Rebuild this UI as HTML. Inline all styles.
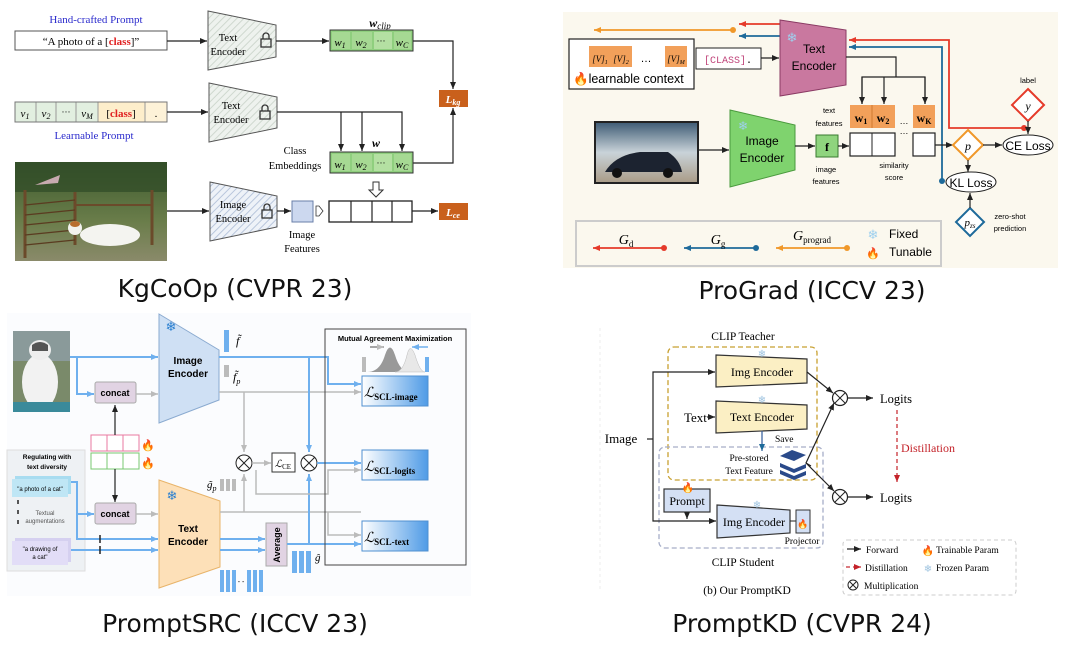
<!DOCTYPE html>
<html><head><meta charset="utf-8"><style>
html,body{margin:0;padding:0;background:#fff;width:1080px;height:654px;overflow:hidden}
svg{display:block}
.t{font-family:"Liberation Serif",serif}
.s{font-family:"Liberation Sans","DejaVu Sans",sans-serif}
.ti{font-family:"DejaVu Sans","Liberation Sans",sans-serif;font-size:25px;fill:#111}
</style></head><body>
<svg width="1080" height="654" viewBox="0 0 1080 654" xmlns="http://www.w3.org/2000/svg">
<defs>
<marker id="ak" markerWidth="8" markerHeight="8" refX="7" refY="4" orient="auto" markerUnits="userSpaceOnUse"><path d="M0,1 L7,4 L0,7z" fill="#222"/></marker>
<marker id="ab" markerWidth="8" markerHeight="8" refX="7" refY="4" orient="auto" markerUnits="userSpaceOnUse"><path d="M0,1 L7,4 L0,7z" fill="#6fb0ee"/></marker>
<marker id="ag" markerWidth="8" markerHeight="8" refX="7" refY="4" orient="auto" markerUnits="userSpaceOnUse"><path d="M0,1 L7,4 L0,7z" fill="#bbb"/></marker>
<marker id="ar" markerWidth="8" markerHeight="8" refX="7" refY="4" orient="auto" markerUnits="userSpaceOnUse"><path d="M0,1 L7,4 L0,7z" fill="#e53a2a"/></marker>
<marker id="abl" markerWidth="8" markerHeight="8" refX="7" refY="4" orient="auto" markerUnits="userSpaceOnUse"><path d="M0,1 L7,4 L0,7z" fill="#1e6a9a"/></marker>
<marker id="ao" markerWidth="8" markerHeight="8" refX="7" refY="4" orient="auto" markerUnits="userSpaceOnUse"><path d="M0,1 L7,4 L0,7z" fill="#f0982a"/></marker>
<marker id="ad" markerWidth="8" markerHeight="8" refX="7" refY="4" orient="auto" markerUnits="userSpaceOnUse"><path d="M0,1 L7,4 L0,7z" fill="#c4232a"/></marker>
<pattern id="hatch" width="5" height="5" patternUnits="userSpaceOnUse" patternTransform="rotate(45)"><rect width="5" height="5" fill="#eef2ee"/><line x1="0" y1="0" x2="0" y2="5" stroke="#cfd8cf" stroke-width="2"/></pattern>
<pattern id="hatchb" width="5" height="5" patternUnits="userSpaceOnUse" patternTransform="rotate(45)"><rect width="5" height="5" fill="#eef2f8"/><line x1="0" y1="0" x2="0" y2="5" stroke="#b8c6dc" stroke-width="2"/></pattern>
<linearGradient id="lg" x1="0" x2="1"><stop offset="0" stop-color="#fff"/><stop offset="1" stop-color="#4f9be6"/></linearGradient>
<linearGradient id="car" x1="0" y1="0" x2="0" y2="1"><stop offset="0" stop-color="#3d5a74"/><stop offset=".5" stop-color="#c9d3d9"/><stop offset="1" stop-color="#a99b86"/></linearGradient>
<linearGradient id="dog" x1="0" y1="0" x2="0" y2="1"><stop offset="0" stop-color="#3d5a2e"/><stop offset=".6" stop-color="#6a7d4a"/><stop offset="1" stop-color="#8a8a6a"/></linearGradient>
</defs>

<!-- ============ KgCoOp ============ -->
<text x="96" y="23" class="t" font-size="11" fill="#2a2acc" text-anchor="middle">Hand-crafted Prompt</text>
<rect x="15" y="31" width="152" height="19" fill="#fff" stroke="#555"/>
<text x="91" y="45" class="t" font-size="11" text-anchor="middle">“A photo of a [<tspan fill="#e02020" font-weight="bold">class</tspan>]”</text>
<line x1="167" y1="41" x2="207" y2="41" stroke="#222" stroke-width="1.2" marker-end="url(#ak)"/>
<path d="M208,11 L276,25 L276,57 L208,70z" fill="url(#hatch)" stroke="#555"/>
<text x="228" y="41" class="t" font-size="10.5" text-anchor="middle">Text</text>
<text x="228" y="55" class="t" font-size="10.5" text-anchor="middle">Encoder</text>
<rect x="261" y="39" width="10" height="8" fill="none" stroke="#333" stroke-width="1.3"/><path d="M263,39 v-3 a3,3 0 0 1 6,0 v3" fill="none" stroke="#333" stroke-width="1.3"/>
<line x1="276" y1="41" x2="329" y2="41" stroke="#222" stroke-width="1.2" marker-end="url(#ak)"/>
<text x="380" y="27" class="t" font-size="12" font-style="italic" font-weight="bold" text-anchor="middle">w<tspan font-size="9" dy="2" font-weight="normal">clip</tspan></text>
<g>
<rect x="330" y="30" width="83" height="21" fill="#8fcf7e" stroke="#333"/>
<rect x="332" y="32" width="18" height="17" fill="#a6d993"/><rect x="352" y="32" width="20" height="17" fill="#a6d993"/><rect x="374" y="32" width="18" height="17" fill="#b4e0a2"/><rect x="394" y="32" width="17" height="17" fill="#a6d993"/>
<text x="340" y="46" class="t" font-size="11" font-style="italic" text-anchor="middle">w<tspan font-size="8" dy="2">1</tspan></text>
<text x="361" y="46" class="t" font-size="11" font-style="italic" text-anchor="middle">w<tspan font-size="8" dy="2">2</tspan></text>
<text x="381" y="44" class="t" font-size="9" text-anchor="middle">···</text>
<text x="402" y="46" class="t" font-size="11" font-style="italic" text-anchor="middle">w<tspan font-size="8" dy="2">C</tspan></text>
</g>
<polyline points="413,41 453,41 453,89" fill="none" stroke="#222" stroke-width="1.2" marker-end="url(#ak)"/>
<rect x="439" y="90" width="29" height="17" fill="#c9601c"/>
<text x="453" y="103" class="t" font-size="11" font-weight="bold" font-style="italic" fill="#fff" text-anchor="middle">L<tspan font-size="8" dy="2">kg</tspan></text>
<polyline points="413,163 453,163 453,108" fill="none" stroke="#222" stroke-width="1.2" marker-end="url(#ak)"/>
<!-- learnable prompt -->
<rect x="15" y="102" width="152" height="20" fill="#e2efe0" stroke="#777"/>
<rect x="98" y="102" width="47" height="20" fill="#fdeecb"/><rect x="145" y="102" width="22" height="20" fill="#fdf2d8"/>
<g stroke="#999"><line x1="36" y1="102" x2="36" y2="122"/><line x1="56" y1="102" x2="56" y2="122"/><line x1="76" y1="102" x2="76" y2="122"/><line x1="98" y1="102" x2="98" y2="122"/><line x1="145" y1="102" x2="145" y2="122"/></g>
<rect x="15" y="102" width="152" height="20" fill="none" stroke="#777"/>
<g class="t" font-size="11" font-style="italic" text-anchor="middle"><text x="25" y="117">v<tspan font-size="8" dy="2">1</tspan></text><text x="46" y="117">v<tspan font-size="8" dy="2">2</tspan></text><text x="66" y="115" font-style="normal" font-size="9">···</text><text x="87" y="117">v<tspan font-size="8" dy="2">M</tspan></text></g>
<text x="121" y="117" class="t" font-size="11" text-anchor="middle">[<tspan fill="#e02020" font-weight="bold">class</tspan>]</text>
<text x="156" y="117" class="t" font-size="11" text-anchor="middle">.</text>
<text x="94" y="139" class="t" font-size="11" fill="#2a2acc" text-anchor="middle">Learnable Prompt</text>
<line x1="167" y1="112" x2="208" y2="112" stroke="#222" stroke-width="1.2" marker-end="url(#ak)"/>
<path d="M209,83 L277,97 L277,128 L209,142z" fill="url(#hatch)" stroke="#555"/>
<text x="231" y="109" class="t" font-size="10.5" text-anchor="middle">Text</text>
<text x="231" y="123" class="t" font-size="10.5" text-anchor="middle">Encoder</text>
<rect x="260" y="111" width="10" height="8" fill="none" stroke="#333" stroke-width="1.3"/><path d="M262,111 v-3 a3,3 0 0 1 6,0 v3" fill="none" stroke="#333" stroke-width="1.3"/>
<polyline points="277,112 402,112 402,151" fill="none" stroke="#222" stroke-width="1.2" marker-end="url(#ak)"/>
<line x1="341" y1="112" x2="341" y2="151" stroke="#222" stroke-width="1.2" marker-end="url(#ak)"/>
<line x1="362" y1="112" x2="362" y2="151" stroke="#222" stroke-width="1.2" marker-end="url(#ak)"/>
<text x="376" y="147" class="t" font-size="12" font-style="italic" font-weight="bold" text-anchor="middle">w</text>
<text x="295" y="154" class="t" font-size="10.5" text-anchor="middle">Class</text>
<text x="295" y="169" class="t" font-size="10.5" text-anchor="middle">Embeddings</text>
<g>
<rect x="330" y="152" width="83" height="21" fill="#8fcf7e" stroke="#333"/>
<rect x="332" y="154" width="18" height="17" fill="#a6d993"/><rect x="352" y="154" width="20" height="17" fill="#a6d993"/><rect x="374" y="154" width="18" height="17" fill="#b4e0a2"/><rect x="394" y="154" width="17" height="17" fill="#a6d993"/>
<text x="340" y="168" class="t" font-size="11" font-style="italic" text-anchor="middle">w<tspan font-size="8" dy="2">1</tspan></text>
<text x="361" y="168" class="t" font-size="11" font-style="italic" text-anchor="middle">w<tspan font-size="8" dy="2">2</tspan></text>
<text x="381" y="166" class="t" font-size="9" text-anchor="middle">···</text>
<text x="402" y="168" class="t" font-size="11" font-style="italic" text-anchor="middle">w<tspan font-size="8" dy="2">C</tspan></text>
</g>
<path d="M373,182 h6 v8 h4 l-7,7 l-7,-7 h4z" fill="#fff" stroke="#333"/>
<!-- dog image -->
<rect x="15" y="162" width="152" height="99" fill="url(#dog)"/>
<rect x="15" y="162" width="152" height="30" fill="#2f4a26" opacity=".7"/>
<g stroke="#6b4a2a" stroke-width="3"><line x1="25" y1="190" x2="25" y2="258"/><line x1="75" y1="192" x2="75" y2="245"/><line x1="152" y1="190" x2="152" y2="245"/></g>
<g stroke="#5a3b20" stroke-width="1.3"><line x1="25" y1="205" x2="75" y2="200"/><line x1="25" y1="215" x2="75" y2="210"/><line x1="25" y1="225" x2="75" y2="220"/><line x1="25" y1="235" x2="75" y2="230"/><line x1="25" y1="245" x2="75" y2="240"/></g>
<line x1="75" y1="205" x2="152" y2="205" stroke="#6b4a2a" stroke-width="2"/>
<ellipse cx="110" cy="235" rx="30" ry="11" fill="#f4f4f0"/><circle cx="75" cy="228" r="7" fill="#f2f2ee"/><ellipse cx="75" cy="224" rx="5" ry="3" fill="#b86e2e"/>
<path d="M35,185 L60,175 L58,183z" fill="#c8aab0"/>
<line x1="167" y1="211" x2="209" y2="211" stroke="#222" stroke-width="1.2" marker-end="url(#ak)"/>
<path d="M210,182 L277,196 L277,227 L210,241z" fill="url(#hatchb)" stroke="#555"/>
<text x="233" y="208" class="t" font-size="10.5" text-anchor="middle">Image</text>
<text x="233" y="222" class="t" font-size="10.5" text-anchor="middle">Encoder</text>
<rect x="262" y="210" width="10" height="8" fill="none" stroke="#333" stroke-width="1.3"/><path d="M264,210 v-3 a3,3 0 0 1 6,0 v3" fill="none" stroke="#333" stroke-width="1.3"/>
<line x1="277" y1="211" x2="291" y2="211" stroke="#222" stroke-width="1.2" marker-end="url(#ak)"/>
<rect x="292" y="201" width="21" height="21" fill="#ccd8ef" stroke="#6a7fa8"/>
<path d="M316,206 l3,0 l4,5 l-4,5 l-3,0z" fill="#fff" stroke="#333" stroke-width=".8"/>
<text x="302" y="238" class="t" font-size="10.5" text-anchor="middle">Image</text>
<text x="302" y="252" class="t" font-size="10.5" text-anchor="middle">Features</text>
<rect x="329" y="201" width="83" height="21" fill="#fff" stroke="#222" stroke-width="1.3"/>
<g stroke="#222" stroke-width="1.2"><line x1="351" y1="201" x2="351" y2="222"/><line x1="372" y1="201" x2="372" y2="222"/><line x1="392" y1="201" x2="392" y2="222"/></g>
<line x1="412" y1="211" x2="438" y2="211" stroke="#222" stroke-width="1.2" marker-end="url(#ak)"/>
<rect x="439" y="203" width="29" height="17" fill="#c9601c"/>
<text x="453" y="216" class="t" font-size="11" font-weight="bold" font-style="italic" fill="#fff" text-anchor="middle">L<tspan font-size="8" dy="2">ce</tspan></text>
<text x="235" y="297" class="ti" text-anchor="middle">KgCoOp (CVPR 23)</text>

<!-- ============ ProGrad ============ -->
<rect x="563" y="12" width="495" height="256" fill="#fbf8ee"/>
<line x1="733" y1="30" x2="594" y2="30" stroke="#f0982a" stroke-width="1.8" marker-end="url(#ao)"/><circle cx="733" cy="30" r="3" fill="#f0982a"/>
<line x1="782" y1="24" x2="739" y2="24" stroke="#e53a2a" stroke-width="1.8" marker-end="url(#ar)"/>
<line x1="782" y1="36" x2="739" y2="36" stroke="#1e6a9a" stroke-width="1.8" marker-end="url(#abl)"/>
<rect x="569" y="39" width="125" height="50" fill="#fff" stroke="#222" stroke-width="1.2"/>
<rect x="589" y="46" width="22" height="21" fill="#f2a05a"/><rect x="611" y="46" width="21" height="21" fill="#f2a05a"/><rect x="665" y="46" width="22" height="21" fill="#f2a05a"/>
<text x="600" y="62" class="t" font-size="9" font-style="italic" text-anchor="middle">[V]<tspan font-size="6" dy="2">1</tspan></text>
<text x="621" y="62" class="t" font-size="9" font-style="italic" text-anchor="middle">[V]<tspan font-size="6" dy="2">2</tspan></text>
<text x="646" y="62" class="s" font-size="11" text-anchor="middle">…</text>
<text x="676" y="62" class="t" font-size="9" font-style="italic" text-anchor="middle">[V]<tspan font-size="6" dy="2">M</tspan></text>
<text x="573" y="83" class="s" font-size="12.5"><tspan fill="#f06020">🔥</tspan>learnable context</text>
<rect x="696" y="48" width="65" height="21" fill="#fff" stroke="#222"/>
<text x="728" y="63" font-family="Liberation Mono,monospace" font-size="10" text-anchor="middle"><tspan fill="#c0447a">[CLASS]</tspan>.</text>
<line x1="761" y1="58" x2="779" y2="58" stroke="#222" stroke-width="1.2" marker-end="url(#ak)"/>
<path d="M780,20 L846,30 L846,85 L780,96z" fill="#c9789f" stroke="#8a3a63"/>
<text x="792" y="42" font-size="13" fill="#9fd0ee" text-anchor="middle">❄</text>
<text x="814" y="53" class="s" font-size="12" text-anchor="middle">Text</text>
<text x="814" y="70" class="s" font-size="12" text-anchor="middle">Encoder</text>
<polyline points="1024,128 949,128 949,40 849,40" fill="none" stroke="#e53a2a" stroke-width="1.8" marker-end="url(#ar)"/><circle cx="1024" cy="128" r="3" fill="#e53a2a"/>
<polyline points="942,181 942,47 849,47" fill="none" stroke="#1e6a9a" stroke-width="1.8" marker-end="url(#abl)"/><circle cx="942" cy="181" r="3" fill="#1e6a9a"/>
<polyline points="846,57 896,57 896,77" fill="none" stroke="#222" stroke-width="1.2"/>
<polyline points="862,104 862,77 925,77 925,104" fill="none" stroke="#222" stroke-width="1.2"/>
<line x1="862" y1="77" x2="862" y2="104" stroke="#222" stroke-width="1.2" marker-end="url(#ak)"/>
<line x1="884" y1="77" x2="884" y2="104" stroke="#222" stroke-width="1.2" marker-end="url(#ak)"/>
<line x1="925" y1="77" x2="925" y2="104" stroke="#222" stroke-width="1.2" marker-end="url(#ak)"/>
<rect x="850" y="105" width="45" height="23" fill="#f2a05a"/><line x1="872" y1="105" x2="872" y2="128" stroke="#d07a30"/>
<rect x="913" y="105" width="22" height="23" fill="#f2a05a"/>
<text x="861" y="122" class="t" font-size="12" font-weight="bold" text-anchor="middle">w<tspan font-size="8" dy="2">1</tspan></text>
<text x="883" y="122" class="t" font-size="12" font-weight="bold" text-anchor="middle">w<tspan font-size="8" dy="2">2</tspan></text>
<text x="924" y="122" class="t" font-size="12" font-weight="bold" text-anchor="middle">w<tspan font-size="8" dy="2">K</tspan></text>
<text x="904" y="124" class="s" font-size="9" text-anchor="middle">…</text><text x="904" y="134" class="s" font-size="9" text-anchor="middle">…</text>
<text x="829" y="113" class="s" font-size="7.5" text-anchor="middle">text</text>
<text x="829" y="126" class="s" font-size="7.5" text-anchor="middle">features</text>
<rect x="595" y="122" width="103" height="61" fill="url(#car)" stroke="#222" stroke-width="2"/>
<path d="M605,172 Q615,155 640,152 L668,152 Q680,160 682,172z" fill="#1c2330"/>
<circle cx="617" cy="173" r="5" fill="#111"/><circle cx="668" cy="173" r="5" fill="#111"/>
<line x1="698" y1="150" x2="729" y2="150" stroke="#222" stroke-width="1.2" marker-end="url(#ak)"/>
<path d="M730,110 L795,125 L795,170 L730,187z" fill="#7fd36e" stroke="#4a9a3d"/>
<text x="743" y="130" font-size="12" fill="#9fd0ee" text-anchor="middle">❄</text>
<text x="762" y="145" class="s" font-size="12" text-anchor="middle">Image</text>
<text x="762" y="162" class="s" font-size="12" text-anchor="middle">Encoder</text>
<line x1="795" y1="146" x2="815" y2="146" stroke="#222" stroke-width="1.2" marker-end="url(#ak)"/>
<rect x="816" y="135" width="22" height="22" fill="#8fd47e" stroke="#3a7a30"/>
<text x="827" y="151" class="t" font-size="12" font-weight="bold" text-anchor="middle">f</text>
<line x1="838" y1="146" x2="849" y2="146" stroke="#222" stroke-width="1.2" marker-end="url(#ak)"/>
<rect x="850" y="133" width="45" height="23" fill="#fff" stroke="#222" stroke-width="1.2"/><line x1="872" y1="133" x2="872" y2="156" stroke="#222"/>
<rect x="913" y="133" width="22" height="23" fill="#fff" stroke="#222" stroke-width="1.2"/>
<text x="826" y="172" class="s" font-size="7.5" text-anchor="middle">image</text>
<text x="826" y="184" class="s" font-size="7.5" text-anchor="middle">features</text>
<text x="894" y="168" class="s" font-size="7.5" text-anchor="middle">similarity</text>
<text x="894" y="180" class="s" font-size="7.5" text-anchor="middle">score</text>
<line x1="935" y1="145" x2="953" y2="145" stroke="#222" stroke-width="1.2" marker-end="url(#ak)"/>
<path d="M968,130 L983,145 L968,160 L953,145z" fill="#fff" stroke="#f0982a" stroke-width="2"/>
<text x="968" y="150" class="t" font-size="12" font-style="italic" text-anchor="middle">p</text>
<line x1="983" y1="145" x2="1002" y2="145" stroke="#222" stroke-width="1.2" marker-end="url(#ak)"/>
<ellipse cx="1028" cy="145" rx="25" ry="10" fill="#fff" stroke="#222"/>
<text x="1028" y="150" class="s" font-size="12" text-anchor="middle">CE Loss</text>
<text x="1028" y="83" class="s" font-size="7.5" text-anchor="middle">label</text>
<path d="M1028,89 L1044,105 L1028,121 L1012,105z" fill="#fff" stroke="#e53a2a" stroke-width="2"/>
<text x="1028" y="110" class="t" font-size="12" font-style="italic" text-anchor="middle">y</text>
<line x1="1028" y1="121" x2="1028" y2="134" stroke="#222" stroke-width="1.2" marker-end="url(#ak)"/>
<line x1="968" y1="160" x2="968" y2="172" stroke="#222" stroke-width="1.2" marker-end="url(#ak)"/>
<ellipse cx="971" cy="182" rx="25" ry="10" fill="#fff" stroke="#222"/>
<text x="971" y="187" class="s" font-size="12" text-anchor="middle">KL Loss</text>
<path d="M970,208 L984,222 L970,236 L956,222z" fill="#fff" stroke="#1e6a9a" stroke-width="2"/>
<text x="970" y="226" class="t" font-size="11" font-style="italic" text-anchor="middle">p<tspan font-size="7" dy="2">zs</tspan></text>
<line x1="970" y1="208" x2="970" y2="193" stroke="#222" stroke-width="1.2" marker-end="url(#ak)"/>
<text x="1010" y="219" class="s" font-size="7.5" text-anchor="middle">zero-shot</text>
<text x="1010" y="231" class="s" font-size="7.5" text-anchor="middle">prediction</text>
<rect x="576" y="221" width="365" height="45" fill="#fbf8ee" stroke="#ccc" stroke-width="2"/>
<line x1="664" y1="248" x2="593" y2="248" stroke="#e53a2a" stroke-width="1.8" marker-end="url(#ar)"/><circle cx="664" cy="248" r="3" fill="#e53a2a"/>
<text x="626" y="244" class="t" font-size="14" font-style="italic" text-anchor="middle">G<tspan font-size="9" font-style="normal" dy="3">d</tspan></text>
<line x1="756" y1="248" x2="684" y2="248" stroke="#1e6a9a" stroke-width="1.8" marker-end="url(#abl)"/><circle cx="756" cy="248" r="3" fill="#1e6a9a"/>
<text x="718" y="244" class="t" font-size="14" font-style="italic" text-anchor="middle">G<tspan font-size="9" font-style="normal" dy="3">g</tspan></text>
<line x1="847" y1="248" x2="776" y2="248" stroke="#f0982a" stroke-width="1.8" marker-end="url(#ao)"/><circle cx="847" cy="248" r="3" fill="#f0982a"/>
<text x="812" y="240" class="t" font-size="14" font-style="italic" text-anchor="middle">G<tspan font-size="9" font-style="normal" dy="3">prograd</tspan></text>
<text x="873" y="239" font-size="13" fill="#9fd0ee" text-anchor="middle">❄</text>
<text x="873" y="257" font-size="11" fill="#f06020" text-anchor="middle">🔥</text>
<text x="889" y="238" class="s" font-size="12">Fixed</text>
<text x="889" y="256" class="s" font-size="12">Tunable</text>
<text x="812" y="299" class="ti" text-anchor="middle">ProGrad (ICCV 23)</text>

<!-- ============ PromptSRC ============ -->
<rect x="7" y="313" width="464" height="283" fill="#fbfcfe"/>
<rect x="13" y="331" width="57" height="81" fill="#7a8a6a"/>
<rect x="13" y="331" width="57" height="30" fill="#8a9a9a"/>
<ellipse cx="40" cy="382" rx="18" ry="28" fill="#f2f2f2"/><ellipse cx="40" cy="350" rx="11" ry="10" fill="#eee"/><path d="M32,345 q8,-6 16,0 v6 h-16z" fill="#555"/>
<rect x="13" y="402" width="57" height="10" fill="#3a8a9a"/>
<polyline points="77,357 77,394 94,394" fill="none" stroke="#6fb0ee" stroke-width="2" marker-end="url(#ab)"/>
<line x1="70" y1="357" x2="158" y2="357" stroke="#6fb0ee" stroke-width="2" marker-end="url(#ab)"/>
<rect x="95" y="382" width="41" height="21" rx="2" fill="#e1d3e3" stroke="#aaa"/>
<text x="115" y="396" class="s" font-size="9" font-weight="bold" text-anchor="middle">concat</text>
<line x1="136" y1="394" x2="158" y2="394" stroke="#bbb" stroke-width="1.5" marker-end="url(#ag)"/>
<path d="M159,314 L219,350 L219,400 L159,423z" fill="#cfe0f4" stroke="#8aaad0"/>
<text x="171" y="331" font-size="13" fill="#2a7fd0" text-anchor="middle">❄</text>
<text x="188" y="364" class="s" font-size="10" font-weight="bold" text-anchor="middle">Image</text>
<text x="188" y="377" class="s" font-size="10" font-weight="bold" text-anchor="middle">Encoder</text>
<rect x="224" y="330" width="5" height="22" fill="#6fb0ee"/>
<text x="236" y="345" class="t" font-size="12" font-style="italic">f̃</text>
<rect x="224" y="365" width="5" height="12" fill="#bbb"/>
<text x="233" y="381" class="t" font-size="12" font-style="italic">f̃<tspan font-size="8" dy="3">p</tspan></text>
<polyline points="219,357 328,357 328,384 361,384" fill="none" stroke="#6fb0ee" stroke-width="2" marker-end="url(#ab)"/>
<line x1="219" y1="392" x2="361" y2="392" stroke="#bbb" stroke-width="1.5" marker-end="url(#ag)"/>
<line x1="244" y1="392" x2="244" y2="452" stroke="#bbb" stroke-width="1.5" marker-end="url(#ag)"/>
<line x1="309" y1="357" x2="309" y2="452" stroke="#6fb0ee" stroke-width="2" marker-end="url(#ab)"/>
<rect x="91" y="435" width="16" height="16" fill="#fff" stroke="#e87aa0"/><rect x="107" y="435" width="16" height="16" fill="#fff" stroke="#e87aa0"/><rect x="123" y="435" width="16" height="16" fill="#fff" stroke="#e87aa0"/>
<rect x="91" y="453" width="16" height="16" fill="#fff" stroke="#7ac870"/><rect x="107" y="453" width="16" height="16" fill="#fff" stroke="#7ac870"/><rect x="123" y="453" width="16" height="16" fill="#fff" stroke="#7ac870"/>
<text x="148" y="449" font-size="11" fill="#f07020" text-anchor="middle">🔥</text>
<text x="148" y="467" font-size="11" fill="#f07020" text-anchor="middle">🔥</text>
<line x1="115" y1="435" x2="115" y2="405" stroke="#222" stroke-width="1.2" marker-end="url(#ak)"/>
<line x1="115" y1="469" x2="115" y2="502" stroke="#222" stroke-width="1.2" marker-end="url(#ak)"/>
<rect x="7" y="450" width="78" height="121" fill="#eef1f4" stroke="#ddd"/>
<text x="47" y="459" class="s" font-size="6.5" font-weight="bold" text-anchor="middle">Regulating with</text>
<text x="47" y="469" class="s" font-size="6.5" font-weight="bold" text-anchor="middle">text diversity</text>
<rect x="15" y="476" width="56" height="18" fill="#a8dcf0"/><rect x="12" y="479" width="56" height="18" fill="#bfe6f5"/>
<text x="40" y="491" class="s" font-size="6" text-anchor="middle">"a photo of a cat"</text>
<g stroke="#222" stroke-width="1.5"><line x1="18" y1="500" x2="18" y2="504"/><line x1="18" y1="510" x2="18" y2="514"/><line x1="18" y1="520" x2="18" y2="524"/></g>
<text x="45" y="515" class="s" font-size="6" fill="#555" text-anchor="middle">Textual</text>
<text x="45" y="523" class="s" font-size="6" fill="#555" text-anchor="middle">augmentations</text>
<rect x="15" y="538" width="56" height="24" fill="#d5d0f0"/><rect x="12" y="541" width="56" height="24" fill="#e2ddf7"/>
<text x="40" y="551" class="s" font-size="6" text-anchor="middle">"a drawing of</text>
<text x="40" y="559" class="s" font-size="6" text-anchor="middle">a cat"</text>
<polyline points="71,482 77,482 77,514 94,514" fill="none" stroke="#6fb0ee" stroke-width="2" marker-end="url(#ab)"/>
<polyline points="77,514 77,539 158,539" fill="none" stroke="#6fb0ee" stroke-width="2" marker-end="url(#ab)"/>
<line x1="71" y1="550" x2="158" y2="550" stroke="#6fb0ee" stroke-width="2" marker-end="url(#ab)"/>
<line x1="100" y1="535" x2="100" y2="543" stroke="#222" stroke-width="1.5"/><line x1="100" y1="546" x2="100" y2="554" stroke="#222" stroke-width="1.5"/>
<rect x="95" y="503" width="41" height="21" rx="2" fill="#e1d3e3" stroke="#aaa"/>
<text x="115" y="517" class="s" font-size="9" font-weight="bold" text-anchor="middle">concat</text>
<line x1="136" y1="514" x2="158" y2="514" stroke="#bbb" stroke-width="1.5" marker-end="url(#ag)"/>
<path d="M159,480 L220,501 L220,567 L159,588z" fill="#fde0b8" stroke="#e8b46a"/>
<text x="172" y="500" font-size="13" fill="#2a7fd0" text-anchor="middle">❄</text>
<text x="188" y="532" class="s" font-size="10" font-weight="bold" text-anchor="middle">Text</text>
<text x="188" y="545" class="s" font-size="10" font-weight="bold" text-anchor="middle">Encoder</text>
<text x="207" y="488" class="t" font-size="11" font-style="italic">g̃<tspan font-size="8" dy="3">p</tspan></text>
<rect x="220" y="479" width="4" height="12" fill="#bbb"/><rect x="226" y="479" width="4" height="12" fill="#bbb"/><rect x="232" y="479" width="4" height="12" fill="#bbb"/>
<line x1="220" y1="512" x2="361" y2="512" stroke="#bbb" stroke-width="1.5"/>
<line x1="244" y1="512" x2="244" y2="474" stroke="#bbb" stroke-width="1.5" marker-end="url(#ag)"/>
<polyline points="328,512 328,535 361,535" fill="none" stroke="#bbb" stroke-width="1.5" marker-end="url(#ag)"/>
<line x1="220" y1="539" x2="265" y2="539" stroke="#6fb0ee" stroke-width="2" marker-end="url(#ab)"/>
<line x1="220" y1="550" x2="265" y2="550" stroke="#6fb0ee" stroke-width="2" marker-end="url(#ab)"/>
<rect x="266" y="523" width="21" height="43" fill="#e1d3e3" stroke="#aaa"/>
<text x="280" y="545" class="s" font-size="9" font-weight="bold" text-anchor="middle" transform="rotate(-90 280 545)">Average</text>
<line x1="287" y1="544" x2="361" y2="544" stroke="#6fb0ee" stroke-width="2" marker-end="url(#ab)"/>
<line x1="309" y1="544" x2="309" y2="474" stroke="#6fb0ee" stroke-width="2" marker-end="url(#ab)"/>
<rect x="292" y="551" width="5" height="22" fill="#6fb0ee"/><rect x="299" y="551" width="5" height="22" fill="#6fb0ee"/><rect x="306" y="551" width="5" height="22" fill="#6fb0ee"/>
<text x="315" y="561" class="t" font-size="11" font-style="italic">ĝ</text>
<g fill="#6fb0ee"><rect x="220" y="570" width="4" height="22"/><rect x="226" y="570" width="4" height="22"/><rect x="232" y="570" width="4" height="22"/><rect x="247" y="570" width="4" height="22"/><rect x="253" y="570" width="4" height="22"/><rect x="259" y="570" width="4" height="22"/></g>
<text x="241" y="584" class="s" font-size="7" text-anchor="middle">- -</text>
<circle cx="244" cy="463" r="8" fill="#fff" stroke="#222"/><path d="M238,457 l12,12 M250,457 l-12,12" stroke="#222"/>
<line x1="252" y1="463" x2="271" y2="463" stroke="#bbb" stroke-width="1.5" marker-end="url(#ag)"/>
<rect x="272" y="453" width="23" height="19" fill="#fff" stroke="#333"/>
<text x="283" y="467" class="t" font-size="10" font-style="italic" text-anchor="middle">ℒ<tspan font-size="7" font-style="normal" dy="2">CE</tspan></text>
<circle cx="309" cy="463" r="8" fill="#fff" stroke="#222"/><path d="M303,457 l12,12 M315,457 l-12,12" stroke="#222"/>
<line x1="317" y1="463" x2="361" y2="463" stroke="#6fb0ee" stroke-width="2" marker-end="url(#ab)"/>
<polyline points="256,470 256,494 328,494 328,470 361,470" fill="none" stroke="#bbb" stroke-width="1.5" marker-end="url(#ag)"/>
<rect x="325" y="329" width="141" height="236" fill="none" stroke="#444"/>
<text x="395" y="341" class="s" font-size="7.5" font-weight="bold" text-anchor="middle">Mutual Agreement Maximization</text>
<rect x="362" y="357" width="4" height="15" fill="#bbb"/><rect x="425" y="357" width="4" height="15" fill="#6fb0ee"/>
<path d="M367,372 Q380,372 385,355 Q390,340 395,355 Q400,372 410,372z" fill="#999"/>
<path d="M395,372 Q403,372 407,355 Q410,342 415,355 Q420,372 425,372z" fill="#e8e8e8" stroke="#bbb" stroke-width=".5"/>
<line x1="370" y1="347" x2="384" y2="347" stroke="#888" stroke-width="1.5" marker-end="url(#ag)"/>
<line x1="428" y1="347" x2="412" y2="347" stroke="#6fb0ee" stroke-width="1.5" marker-end="url(#ab)"/>
<rect x="362" y="376" width="66" height="30" fill="url(#lg)" stroke="#4f8fd0"/>
<text x="364" y="397" class="t" font-size="14" font-style="italic">ℒ<tspan font-size="9" font-weight="bold" font-style="normal" dy="3">SCL-image</tspan></text>
<rect x="362" y="450" width="66" height="30" fill="url(#lg)" stroke="#4f8fd0"/>
<text x="364" y="471" class="t" font-size="14" font-style="italic">ℒ<tspan font-size="9" font-weight="bold" font-style="normal" dy="3">SCL-logits</tspan></text>
<rect x="362" y="521" width="66" height="30" fill="url(#lg)" stroke="#4f8fd0"/>
<text x="364" y="542" class="t" font-size="14" font-style="italic">ℒ<tspan font-size="9" font-weight="bold" font-style="normal" dy="3">SCL-text</tspan></text>
<text x="235" y="632" class="ti" text-anchor="middle">PromptSRC (ICCV 23)</text>

<!-- ============ PromptKD ============ -->
<line x1="600" y1="328" x2="600" y2="590" stroke="#eee" stroke-dasharray="3,3"/>
<text x="743" y="340" class="t" font-size="11.5" text-anchor="middle">CLIP Teacher</text>
<rect x="668" y="347" width="149" height="133" rx="6" fill="none" stroke="#c8a030" stroke-dasharray="5,3" stroke-width="1.3"/>
<rect x="659" y="447" width="164" height="101" rx="6" fill="none" stroke="#a6adc8" stroke-dasharray="5,3" stroke-width="1.3"/>
<text x="621" y="443" class="t" font-size="13" text-anchor="middle">Image</text>
<polyline points="647,439 653,439" stroke="#222" stroke-width="1.2"/>
<polyline points="653,439 653,372 715,372" fill="none" stroke="#222" stroke-width="1.2" marker-end="url(#ak)"/>
<polyline points="653,439 653,521 716,521" fill="none" stroke="#222" stroke-width="1.2" marker-end="url(#ak)"/>
<path d="M716,355 L807,359 L807,383 L716,387z" fill="#fbefc4" stroke="#333" stroke-width="1.2"/>
<text x="762" y="376" class="t" font-size="12" text-anchor="middle">Img Encoder</text>
<text x="762" y="357" font-size="10" fill="#9fc4e0" text-anchor="middle">❄</text>
<text x="684" y="422" class="t" font-size="13">Text</text>
<line x1="707" y1="417" x2="715" y2="417" stroke="#222" stroke-width="1.2" marker-end="url(#ak)"/>
<path d="M716,401 L807,405 L807,429 L716,433z" fill="#fbefc4" stroke="#333" stroke-width="1.2"/>
<text x="762" y="421" class="t" font-size="12" text-anchor="middle">Text Encoder</text>
<text x="762" y="403" font-size="10" fill="#9fc4e0" text-anchor="middle">❄</text>
<line x1="762" y1="431" x2="762" y2="451" stroke="#2f5a9a" stroke-width="1.2" marker-end="url(#abl)"/>
<text x="775" y="442" class="t" font-size="9.5">Save</text>
<text x="749" y="461" class="t" font-size="9.5" text-anchor="middle">Pre-stored</text>
<text x="749" y="474" class="t" font-size="9.5" text-anchor="middle">Text Feature</text>
<g fill="#2a4a8a"><path d="M780,456 l12,-6 l14,5 l-12,6z"/><path d="M780,463 l14,6 l12,-5 v4 l-12,5 l-14,-6z"/><path d="M780,470 l14,6 l12,-5 v4 l-12,5 l-14,-6z"/></g>
<polyline points="807,372 833,393" fill="none" stroke="#222" stroke-width="1.2" marker-end="url(#ak)"/>
<polyline points="811,466 806,463 834,403" fill="none" stroke="#222" stroke-width="1.2" marker-end="url(#ak)"/>
<polyline points="806,463 834,491" fill="none" stroke="#222" stroke-width="1.2" marker-end="url(#ak)"/>
<circle cx="840" cy="398" r="7.5" fill="#fff" stroke="#222" stroke-width="1.2"/><path d="M835,393 l10,10 M845,393 l-10,10" stroke="#222"/>
<circle cx="840" cy="497" r="7.5" fill="#fff" stroke="#222" stroke-width="1.2"/><path d="M835,492 l10,10 M845,492 l-10,10" stroke="#222"/>
<line x1="848" y1="398" x2="873" y2="398" stroke="#222" stroke-width="1.2" marker-end="url(#ak)"/>
<line x1="848" y1="497" x2="873" y2="497" stroke="#222" stroke-width="1.2" marker-end="url(#ak)"/>
<text x="880" y="403" class="t" font-size="12.5">Logits</text>
<text x="880" y="502" class="t" font-size="12.5">Logits</text>
<line x1="897" y1="410" x2="897" y2="482" stroke="#c4232a" stroke-width="1.2" stroke-dasharray="4,3" marker-end="url(#ad)"/>
<text x="901" y="452" class="t" font-size="12" fill="#c4232a">Distillation</text>
<rect x="664" y="489" width="46" height="23" fill="#d4e0f4" stroke="#333" stroke-width="1.2"/>
<text x="687" y="505" class="t" font-size="12" text-anchor="middle">Prompt</text>
<text x="688" y="491" font-size="10" fill="#e02020" text-anchor="middle">🔥</text>
<line x1="687" y1="512" x2="687" y2="519" stroke="#222" stroke-width="1.2" marker-end="url(#ak)"/>
<path d="M717,505 L790,510 L790,533 L717,538z" fill="#d4e0f4" stroke="#333" stroke-width="1.2"/>
<text x="754" y="526" class="t" font-size="12" text-anchor="middle">Img Encoder</text>
<text x="757" y="508" font-size="10" fill="#9fc4e0" text-anchor="middle">❄</text>
<line x1="790" y1="521" x2="796" y2="521" stroke="#222"/>
<rect x="796" y="510" width="14" height="23" fill="#d4e0f4" stroke="#333"/>
<text x="803" y="527" font-size="9" fill="#e02020" text-anchor="middle">🔥</text>
<text x="802" y="544" class="t" font-size="9.5" text-anchor="middle">Projector</text>
<text x="743" y="566" class="t" font-size="11.5" text-anchor="middle">CLIP Student</text>
<text x="747" y="594" class="t" font-size="11.5" text-anchor="middle">(b) Our PromptKD</text>
<rect x="843" y="540" width="173" height="55" rx="4" fill="none" stroke="#ccc" stroke-dasharray="4,3"/>
<line x1="847" y1="549" x2="861" y2="549" stroke="#222" stroke-width="1.2" marker-end="url(#ak)"/>
<text x="866" y="553" class="t" font-size="9.5">Forward</text>
<line x1="846" y1="567" x2="850" y2="567" stroke="#c4232a" stroke-width="1.2"/><line x1="853" y1="567" x2="861" y2="567" stroke="#c4232a" stroke-width="1.2" marker-end="url(#ad)"/>
<text x="865" y="571" class="t" font-size="9.5">Distillation</text>
<circle cx="853" cy="585" r="5" fill="none" stroke="#222"/><path d="M850,582 l6,6 M856,582 l-6,6" stroke="#222"/>
<text x="864" y="589" class="t" font-size="9.5">Multiplication</text>
<text x="928" y="554" font-size="10" fill="#e02020" text-anchor="middle">🔥</text>
<text x="936" y="553" class="t" font-size="9.5">Trainable Param</text>
<text x="928" y="572" font-size="10" fill="#9fc4e0" text-anchor="middle">❄</text>
<text x="936" y="571" class="t" font-size="9.5">Frozen Param</text>
<text x="802" y="632" class="ti" text-anchor="middle">PromptKD (CVPR 24)</text>
</svg>
</body></html>
